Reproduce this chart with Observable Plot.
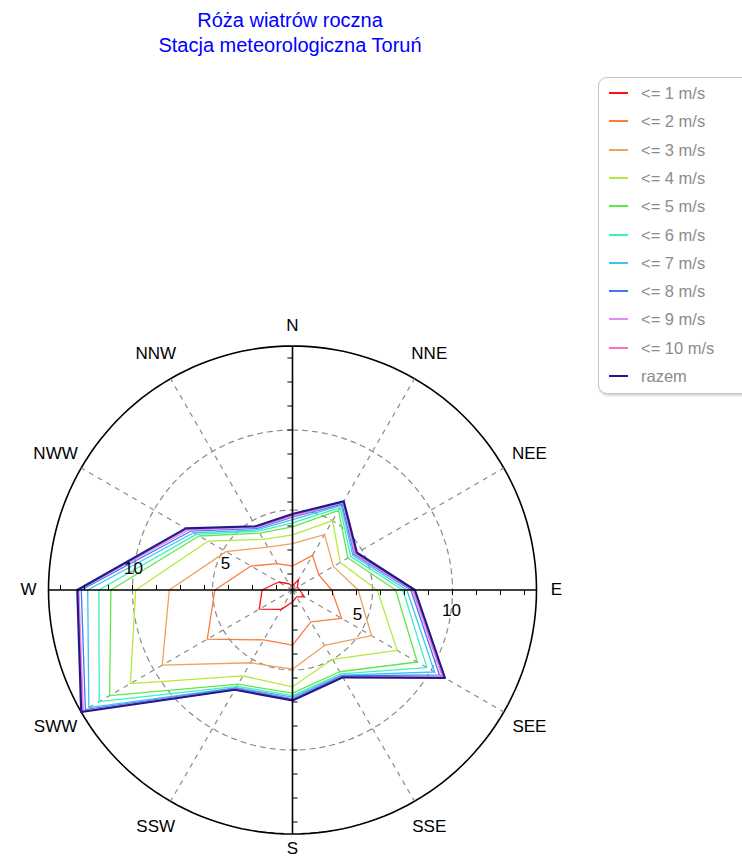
<!DOCTYPE html>
<html>
<head>
<meta charset="utf-8">
<script src="https://cdn.jsdelivr.net/npm/d3@7"></script>
<script src="https://cdn.jsdelivr.net/npm/@observablehq/plot@0.6"></script>
<style>
  html, body { margin: 0; padding: 0; background: #fff; }
  #wrap { position: relative; width: 742px; height: 861px; overflow: hidden; font-family: "Liberation Sans", Arial, sans-serif; }
  #title { position: absolute; left: 0; top: 8px; width: 580px; text-align: center; color: #0000ff; font-size: 20px; line-height: 25px; }
  #legend { position: absolute; left: 598px; top: 77px; width: 160px; height: 315px; border: 1px solid #c4c4c4; border-radius: 9px; box-shadow: 1px 2px 2px #d8d8d8; background: #fff; }
  .item { position: absolute; left: 0; height: 20px; }
  .item .sw { position: absolute; left: 10px; top: 9px; width: 19px; height: 2px; }
  .item .lb { position: absolute; left: 42px; top: 0; font-size: 16.5px; line-height: 20px; color: #8c8c8c; white-space: nowrap; }
</style>
</head>
<body>
<div id="wrap">
  <div id="chart"></div>
  <div id="title">Róża wiatrów roczna<br>Stacja meteorologiczna Toruń</div>
  <div id="legend"></div>
</div>
<script>
// Directions (clockwise from north)
const directions = ["N", "NNE", "NEE", "E", "SEE", "SSE", "S", "SSW", "SWW", "W", "NWW", "NNW"];
const directionAngles = [0, 30, 60, 90, 120, 150, 180, 210, 240, 270, 300, 330];

// Series (cumulative frequencies, %), one value per direction
const seriesNames = ["<= 1 m/s", "<= 2 m/s", "<= 3 m/s", "<= 4 m/s", "<= 5 m/s", "<= 6 m/s", "<= 7 m/s", "<= 8 m/s", "<= 9 m/s", "<= 10 m/s", "razem"];
const seriesColors = ["#ff1010", "#ff7a3c", "#eea25c", "#b4ea3c", "#5ee84a", "#3cf0c0", "#3cc4f0", "#4078f0", "#e08cf4", "#ff6cd0", "#1c1c8c"];
const s1  = [0.25, 0.75, 0.35, 0.45, 0.85, 0.5, 0.75, 1.4, 2.4, 1.9, 1.0, 0.45];
const s2  = [1.5, 2.5, 1.9, 2.45, 3.55, 2.3, 3.45, 3.6, 6.15, 4.85, 3.0, 1.9];
const s3  = [2.9, 4.0, 2.95, 4.1, 5.7, 4.0, 4.95, 5.25, 9.4, 7.7, 4.8, 3.1];
const s4  = [3.45, 5.0, 3.45, 5.3, 7.55, 5.0, 6.05, 6.2, 11.7, 9.8, 6.1, 3.65];
const s5  = [3.95, 5.75, 4.0, 6.45, 9.0, 5.9, 6.45, 6.8, 13.2, 11.35, 6.75, 4.1];
const s6  = [4.2, 5.95, 4.2, 6.9, 9.7, 6.05, 6.6, 6.95, 13.95, 12.1, 6.95, 4.25];
const s7  = [4.4, 6.1, 4.35, 7.15, 10.25, 6.15, 6.7, 7.05, 14.7, 12.8, 7.15, 4.35];
const s8  = [4.55, 6.2, 4.45, 7.4, 10.6, 6.2, 6.8, 7.1, 14.95, 13.2, 7.35, 4.45];
const s9  = [4.6, 6.3, 4.5, 7.5, 10.8, 6.25, 6.85, 7.15, 15.1, 13.35, 7.5, 4.5];
const s10 = [4.65, 6.35, 4.55, 7.55, 10.85, 6.25, 6.85, 7.15, 15.15, 13.4, 7.6, 4.55];
const razem = [4.75, 6.4, 4.65, 7.65, 11.0, 6.3, 6.9, 7.2, 15.25, 13.45, 7.7, 4.6];
const seriesValues = [s1, s2, s3, s4, s5, s6, s7, s8, s9, s10, razem];

// Radial grid
const gridCircles = [5, 10];
const gridLabels = ["5", "10"];
const tickValues = [1, 2.5, 4, 5.5, 7, 8.5, 10, 11.5, 13, 14.5];

const rad = a => a * Math.PI / 180;
const px = (r, a) => r * Math.sin(rad(a));
const py = (r, a) => r * Math.cos(rad(a));
const rMax = d3.max(razem);

const circlePts = r => d3.range(0, 361, 2).map(a => ({x: px(r, a), y: py(r, a)}));

const marks = [];
// outer circle
marks.push(Plot.line(circlePts(rMax), {x: "x", y: "y", stroke: "#000", strokeWidth: 1.6}));
// dashed grid circles
for (const g of gridCircles) {
  marks.push(Plot.line(circlePts(g), {x: "x", y: "y", stroke: "#8a8a8a", strokeWidth: 1.2, strokeDasharray: "5,5"}));
}
// dashed radial lines
const radial = directionAngles.filter(a => a % 90 !== 0).map(a => ({x1: 0, y1: 0, x2: px(rMax, a), y2: py(rMax, a)}));
marks.push(Plot.link(radial, {x1: "x1", y1: "y1", x2: "x2", y2: "y2", stroke: "#8a8a8a", strokeWidth: 1.2, strokeDasharray: "5,5"}));

// series polygons
seriesValues.forEach((vals, i) => {
  const pts = vals.map((v, j) => ({x: px(v, directionAngles[j]), y: py(v, directionAngles[j])}));
  pts.push(pts[0]);
  marks.push(Plot.line(pts, {x: "x", y: "y", stroke: seriesColors[i], strokeWidth: i === seriesValues.length - 1 ? 2.2 : 1.3}));
});

// axes (solid)
const axes = [0, 90].map(a => ({x1: px(rMax, a), y1: py(rMax, a), x2: -px(rMax, a), y2: -py(rMax, a)}));
marks.push(Plot.link(axes, {x1: "x1", y1: "y1", x2: "x2", y2: "y2", stroke: "#000", strokeWidth: 1.6}));
// ticks
const tl = 0.32;
const ticks = [];
for (const t of tickValues) {
  ticks.push({x1: t, y1: 0, x2: t, y2: -tl});
  ticks.push({x1: -t, y1: 0, x2: -t, y2: tl});
  ticks.push({x1: 0, y1: t, x2: -tl, y2: t});
  ticks.push({x1: 0, y1: -t, x2: tl, y2: -t});
}
marks.push(Plot.link(ticks, {x1: "x1", y1: "y1", x2: "x2", y2: "y2", stroke: "#000", strokeWidth: 1}));

// grid value labels
const gl = [];
gridCircles.forEach((g, i) => {
  gl.push({x: g, y: 0, t: gridLabels[i], side: 1});
  gl.push({x: -g, y: 0, t: gridLabels[i], side: -1});
});
marks.push(Plot.text(gl.filter(d => d.t === "10" && d.side === 1), {x: "x", y: "y", text: "t", dx: -1, dy: 21, fontSize: 17, fill: "#000"}));
marks.push(Plot.text(gl.filter(d => d.t === "10" && d.side === -1), {x: "x", y: "y", text: "t", dx: 1, dy: -21, fontSize: 17, fill: "#000"}));
marks.push(Plot.text(gl.filter(d => d.t === "5" && d.side === 1), {x: "x", y: "y", text: "t", dx: -15, dy: 25, fontSize: 17, fill: "#000"}));
marks.push(Plot.text(gl.filter(d => d.t === "5" && d.side === -1), {x: "x", y: "y", text: "t", dx: 13, dy: -26, fontSize: 17, fill: "#000"}));

// direction labels
const dl = directions.map((d, j) => {
  const a = directionAngles[j];
  const r = a === 180 ? 16.15 : (a % 90 === 0 ? 16.5 : 17.1);
  return {x: px(r, a), y: py(r, a), t: d};
});
marks.push(Plot.text(dl, {x: "x", y: "y", text: "t", fontSize: 17, fill: "#000"}));

const cx = 292, cy = 589.5, k = 16, W = 742, H = 861;
const chart = Plot.plot({
  width: W,
  height: H,
  margin: 0,
  style: {background: "#fff", fontFamily: "'Liberation Sans', Arial, sans-serif"},
  x: {domain: [-cx / k, (W - cx) / k], range: [0, W], axis: null},
  y: {domain: [-(H - cy) / k, cy / k], range: [H, 0], axis: null},
  marks
});
document.getElementById("chart").appendChild(chart);

// legend
const legend = document.getElementById("legend");
seriesNames.forEach((n, i) => {
  const it = document.createElement("div");
  it.className = "item";
  it.style.top = (5 + i * 28.3) + "px";
  const sw = document.createElement("div");
  sw.className = "sw";
  sw.style.background = seriesColors[i];
  const lb = document.createElement("div");
  lb.className = "lb";
  lb.textContent = n;
  it.appendChild(sw); it.appendChild(lb);
  legend.appendChild(it);
});
</script>
</body>
</html>
